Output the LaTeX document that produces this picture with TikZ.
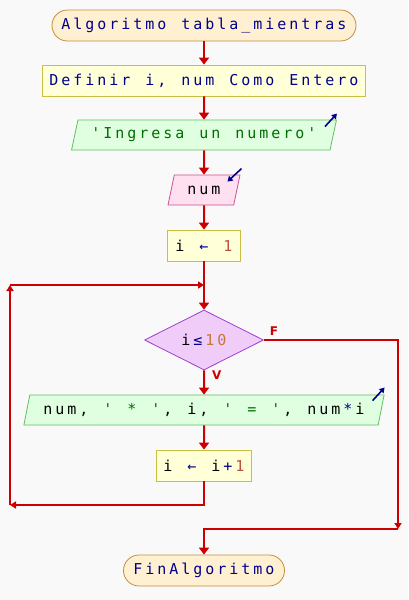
\documentclass[tikz,border=0pt]{standalone}
\usepackage{fontspec}
\setmonofont{DejaVu Sans Mono}[LetterSpace=19.8]
\newfontfamily\etiqfont{DejaVu Sans}
\usetikzlibrary{shapes.geometric,arrows.meta,positioning}

\definecolor{fondo}{RGB}{249,249,249}
\definecolor{flecha}{RGB}{204,0,0}
\definecolor{azul}{RGB}{0,0,140}
\definecolor{verde}{RGB}{0,110,0}
\definecolor{numero}{RGB}{190,80,60}
\definecolor{naranja}{RGB}{196,120,60}
\definecolor{termfondo}{RGB}{255,240,210}
\definecolor{termborde}{RGB}{200,140,60}
\definecolor{procfondo}{RGB}{255,255,216}
\definecolor{procborde}{RGB}{200,192,64}
\definecolor{salfondo}{RGB}{224,255,224}
\definecolor{salborde}{RGB}{96,192,96}
\definecolor{entfondo}{RGB}{255,224,240}
\definecolor{entborde}{RGB}{208,80,144}
\definecolor{decfondo}{RGB}{240,204,248}
\definecolor{decborde}{RGB}{160,64,208}

% paso fijo de 12pt por caracter
\newcommand\espacio{\spaceskip=14.97pt\relax}
\newcommand\sep{\kern2.97pt\relax}

\tikzset{
  base/.style={inner sep=0pt, line width=0.8pt, text=azul,
    font=\ttfamily\fontsize{15}{15}\selectfont, execute at begin node=\espacio},
  terminal/.style={base, rectangle, rounded corners=15.5pt, draw=termborde, fill=termfondo, minimum height=31pt},
  proceso/.style={base, rectangle, draw=procborde, fill=procfondo, minimum height=31pt},
  salida/.style={base, trapezium, trapezium left angle=68, trapezium right angle=112,
    trapezium stretches=true, draw=salborde, fill=salfondo, minimum height=30pt},
  entrada/.style={salida, draw=entborde, fill=entfondo},
  decision/.style={base, diamond, draw=decborde, fill=decfondo, minimum width=119pt, minimum height=60pt},
  flujo/.style={draw=flecha, line width=2pt, -{Triangle[width=10pt,length=7pt]}},
  esquina/.style={draw=flecha, line width=2pt, -{Triangle[width=7pt,length=6pt]}},
  icono/.style={draw=azul, line width=1.6pt, -{Triangle[width=6pt,length=5pt]}},
  etiqueta/.style={inner sep=0pt, text=flecha, font=\etiqfont\bfseries\fontsize{12}{12}\selectfont}
}

\begin{document}
\begin{tikzpicture}[x=1pt, y=-1pt]
\fill[fondo] (0,0) rectangle (408,600);
\useasboundingbox (0,0) rectangle (408,600);

\node[terminal, minimum width=304pt] (inicio) at (204,25.5) {Algoritmo tabla\_mientras};
\node[proceso, minimum width=323pt] (definir) at (204,80.5) {Definir i, num Como Entero};
\node[salida, minimum width=265pt, text=verde] (ingresa) at (204,135) {'Ingresa un numero'};
\node[entrada, minimum width=72pt, text=black] (leer) at (204,190) {num};
\node[proceso, minimum width=73pt] (init) at (204,245.5)
  {\color{black}i \color{azul}← \color{numero}1};
\node[decision] (cond) at (204,340)
  {\color{black}i\sep\color{azul}≤\sep\color{naranja}10};
\node[salida, minimum width=361pt, text=black] (escribir) at (204,410)
  {num, \color{verde}' * '\sep\color{black}, i, \color{verde}' = '\sep\color{black}, num\sep\color{azul}*\sep\color{black}i};
\node[proceso, minimum width=95pt] (incr) at (204,465.5)
  {\color{black}i \color{azul}← \color{black}i\sep\color{azul}+\sep\color{numero}1};
\node[terminal, minimum width=161pt] (fin) at (204,570.5) {FinAlgoritmo};

% iconos de entrada / salida
\draw[icono] ([shift={(-12,7)}]ingresa.top right corner) -- ([shift={(0,-6)}]ingresa.top right corner);
\draw[icono] ([shift={(1,-6)}]leer.top right corner) -- ([shift={(-13,7)}]leer.top right corner);
\draw[icono] ([shift={(-12,6)}]escribir.top right corner) -- ([shift={(0,-7)}]escribir.top right corner);

\draw[flujo] (inicio.south) -- (definir.north);
\draw[flujo] (definir.south) -- (ingresa.north);
\draw[flujo] (ingresa.south) -- (leer.north);
\draw[flujo] (leer.south) -- (init.north);
\draw[flujo] (init.south) -- (cond.north);

% rama verdadera y bucle
\coordinate (abajo) at (10,505);
\coordinate (arriba) at (10,285);
\coordinate (union) at (204,285);
\draw[flujo] (cond.south) -- node[etiqueta, pos=0.2, right=7pt] (v) {V} (escribir.north);
\draw[flujo] (escribir.south) -- (incr.north);
\draw[esquina] (incr.south) |- (abajo);
\draw[esquina] (abajo) -- (arriba);
\draw[esquina] (arriba) -- (union);

% rama falsa
\coordinate (derecha) at (398,529);
\node[etiqueta] (f) at ([shift={(10,-8.5)}]cond.east) {F};
\draw[esquina] (cond.east) -| (derecha);
\draw[flujo] (derecha) -| (fin.north);
\end{tikzpicture}
\end{document}
